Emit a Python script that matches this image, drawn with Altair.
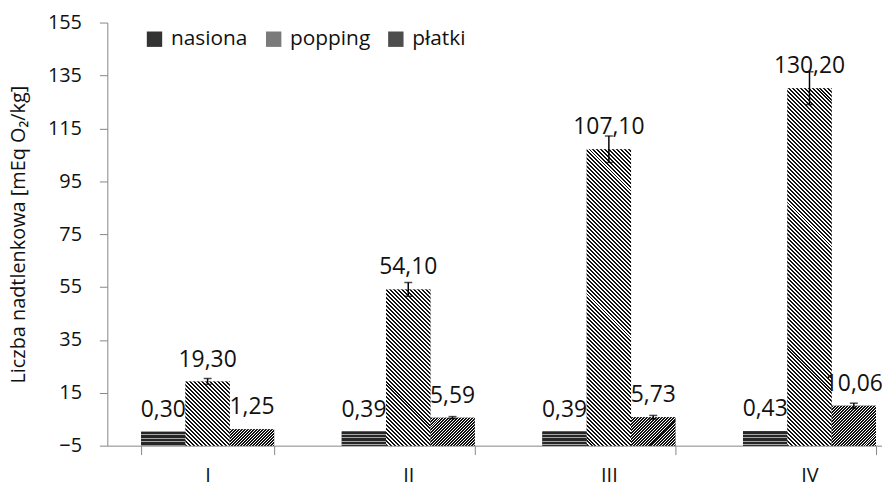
import math
import altair as alt
import pandas as pd

categories = ["I", "II", "III", "IV"]
series_names = ["nasiona", "popping", "płatki"]
nasiona = [0.30, 0.39, 0.39, 0.43]
popping = [19.30, 54.10, 107.10, 130.20]
platki = [1.25, 5.59, 5.73, 10.06]
err_nasiona = [0.0, 0.0, 0.0, 0.0]
err_popping = [1.1, 2.6, 5.0, 6.2]
err_platki = [0.0, 0.4, 0.7, 1.0]
y_ticks = [-5, 15, 35, 55, 75, 95, 115, 135, 155]

rows = []
for s, vals, errs in zip(series_names, [nasiona, popping, platki],
                         [err_nasiona, err_popping, err_platki]):
    for c, v, e in zip(categories, vals, errs):
        rows.append({"cat": c, "series": s, "value": v, "lo": v - e, "hi": v + e, "err": e})
df = pd.DataFrame(rows)

FONT = "Open Sans"
PLOT_W = 780
RANGE_W = 808
PLOT_H = 426
Y_MIN, Y_MAX = -5, 155
PAD_INNER = 0.337
PAD_OUTER = PAD_INNER / 2
SYM_SIZE = 240

step = RANGE_W / (len(categories) - PAD_INNER + 2 * PAD_OUTER)
bar_w = step * (1 - PAD_INNER) / len(series_names)
px_per_unit = PLOT_H / (Y_MAX - Y_MIN)
SQ2 = math.sqrt(2)

# hatch styles: period measured perpendicular to the lines
hatch = {
    "nasiona": dict(kind="h", period=3.5, frac=0.72, dark="#262626", light="#a6a6a6"),
    "popping": dict(kind="back", period=4 / SQ2, frac=0.5, dark="#111111", light="#ffffff"),
    "płatki": dict(kind="fwd", period=3 / SQ2, frac=2 / 3, dark="#111111", light="#ffffff"),
}
solid = ["#333333", "#7a7a7a", "#4d4d4d"]


def make_gradient(w, h, kind, period, frac, dark, light):
    if kind == "h":
        L = h
        x1, y1, x2, y2 = 0, 0, 0.0001, 1
    else:
        L = (w + h) / SQ2
        k = (w + h) / (w * w + h * h)
        a, b = k * w, k * h
        if kind == "back":
            x1, y1, x2, y2 = 0, 1, a, 1 - b
        else:
            x1, y1, x2, y2 = 0, 0, a, b
    n = int(math.ceil(L / period))
    stops = []
    for i in range(n):
        t0 = min(1.0, i * period / L)
        t1 = min(1.0, (i + frac) * period / L)
        t2 = min(1.0, (i + 1) * period / L)
        stops += [(t0, dark), (t1, dark), (t1, light), (t2, light)]
    return alt.LinearGradient(
        gradient="linear",
        stops=[alt.GradientStop(color=c, offset=round(o, 6)) for o, c in stops],
        x1=x1, y1=y1, x2=x2, y2=y2,
    )


x_enc = alt.X(
    "cat:N",
    scale=alt.Scale(domain=categories, range=[0, RANGE_W],
                    paddingInner=PAD_INNER, paddingOuter=PAD_OUTER),
    axis=alt.Axis(title=None, labelAngle=0, tickBand="extent", tickSize=9,
                  labelPadding=11, labelFontSize=20, domainColor="#868686",
                  tickColor="#868686", labelColor="#111111"),
)
xo_enc = alt.XOffset("series:N", scale=alt.Scale(domain=series_names, paddingInner=0, paddingOuter=0))
y_scale = alt.Scale(domain=[Y_MIN, Y_MAX], nice=False, zero=False, padding=0)
y_axis = alt.Axis(values=y_ticks, title="Liczba nadtlenkowa [mEq O₂/kg]", grid=False,
                  tickSize=8, labelPadding=18, labelFontSize=20, titleFontSize=20,
                  titleFontWeight="normal", titleX=-89, titleY=PLOT_H / 2,
                  titleBaseline="middle", titleAngle=-90, domainColor="#868686",
                  tickColor="#868686", labelColor="#111111", titleColor="#111111")

base = alt.Chart(df).encode(x=x_enc, xOffset=xo_enc)

bars = base.mark_bar(strokeWidth=0).encode(
    y=alt.Y("value:Q", scale=y_scale, axis=y_axis),
    y2=alt.datum(Y_MIN),
    fill=alt.Fill("series:N", scale=alt.Scale(domain=series_names, range=solid),
                  legend=alt.Legend(orient="none", legendX=37, legendY=6,
                                    direction="horizontal", title=None,
                                    symbolType="square", symbolSize=SYM_SIZE,
                                    symbolStrokeWidth=0, labelFontSize=21,
                                    labelFont=FONT, labelColor="#111111",
                                    columnPadding=15, labelOffset=6, padding=0)),
)

overlays = []
for s, vals in zip(series_names, [nasiona, popping, platki]):
    for c, v in zip(categories, vals):
        h = (v - Y_MIN) * px_per_unit
        grad = make_gradient(bar_w, h, **hatch[s])
        overlays.append(
            base.transform_filter((alt.datum.series == s) & (alt.datum.cat == c))
            .mark_bar(fill=grad, strokeWidth=0)
            .encode(y=alt.Y("value:Q", scale=y_scale, axis=y_axis), y2=alt.datum(Y_MIN))
        )

err_base = base.transform_filter(alt.datum.err > 0)
err_rule = err_base.mark_rule(color="#000000", strokeWidth=1.5).encode(
    y=alt.Y("lo:Q", scale=y_scale, axis=y_axis), y2="hi:Q")
err_top = err_base.mark_tick(color="#000000", thickness=1.5, size=8).encode(
    y=alt.Y("hi:Q", scale=y_scale, axis=y_axis))
err_bot = err_base.mark_tick(color="#000000", thickness=1.5, size=8).encode(
    y=alt.Y("lo:Q", scale=y_scale, axis=y_axis))

labels = base.transform_calculate(
    label="replace(format(datum.value, '.2f'), '.', ',')"
).mark_text(dy=-15, baseline="alphabetic", align="center", fontSize=23,
            font=FONT, color="#111111").encode(
    y=alt.Y("value:Q", scale=y_scale, axis=y_axis), text="label:N")

chart = alt.layer(bars, *overlays, err_rule, err_top, err_bot, labels).properties(
    width=PLOT_W, height=PLOT_H,
    autosize=alt.AutoSizeParams(type="none"),
    padding={"left": 100, "top": 13, "right": 0, "bottom": 45},
    background="white",
).configure_view(stroke=None).configure_axis(
    labelFont=FONT, titleFont=FONT
)

chart.save("out.html", embed_options={"renderer": "svg", "actions": False})
